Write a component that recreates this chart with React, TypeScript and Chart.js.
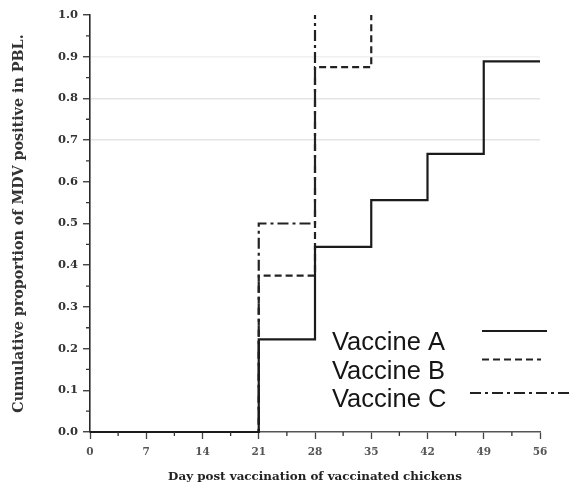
import React, { useEffect, useRef } from "react";
import { Chart, registerables } from "chart.js";

Chart.register(...registerables);

// Cumulative proportion of MDV-positive birds (PBL) by day post vaccination
const seriesNames = ["Vaccine A", "Vaccine B", "Vaccine C"];
const daysA = [0, 21, 28, 35, 42, 49, 56];
const propA = [0, 0.222, 0.444, 0.556, 0.667, 0.889, 0.889];
const daysB = [0, 21, 28, 35];
const propB = [0, 0.375, 0.875, 1.0];
const daysC = [0, 21, 28];
const propC = [0, 0.5, 1.0];

const xTickValues = [0, 7, 14, 21, 28, 35, 42, 49, 56];
const yTickValues = [0, 0.1, 0.2, 0.3, 0.4, 0.5, 0.6, 0.7, 0.8, 0.9, 1.0];
const xMinorTicks = [3.5, 10.5, 17.5, 24.5, 31.5, 38.5, 45.5, 52.5];
const yMinorTicks = [0.05, 0.15, 0.25, 0.35, 0.45, 0.55, 0.65, 0.75, 0.85, 0.95];

const xTitle = "Day post vaccination of vaccinated chickens";
const yTitle = "Cumulative proportion of MDV positive in PBL.";

const serif = '"DejaVu Serif", serif';

const toPoints = (xs: number[], ys: number[]) => xs.map((x, i) => ({ x, y: ys[i] }));

// Short minor tick marks between the labelled ones on both axes
const minorTicksPlugin = {
  id: "minorTicks",
  afterDraw(chart: any) {
    const { ctx, scales } = chart;
    const xs = scales.x;
    const ys = scales.y;
    ctx.save();
    ctx.strokeStyle = "#333";
    ctx.lineWidth = 1.3;
    ctx.beginPath();
    yMinorTicks.forEach((v) => {
      const py = ys.getPixelForValue(v);
      ctx.moveTo(ys.right - 4, py);
      ctx.lineTo(ys.right, py);
    });
    xMinorTicks.forEach((v) => {
      const px = xs.getPixelForValue(v);
      ctx.moveTo(px, xs.top);
      ctx.lineTo(px, xs.top + 4);
    });
    ctx.stroke();
    ctx.restore();
  },
};

// Legend with labels on the left and line samples on the right
const sideLegendPlugin = {
  id: "sideLegend",
  afterDraw(chart: any, _args: any, opts: any) {
    const { ctx } = chart;
    ctx.save();
    chart.data.datasets.forEach((ds: any, i: number) => {
      const baseY = opts.top + i * opts.rowGap;
      ctx.font = opts.font;
      ctx.fillStyle = "#151515";
      ctx.textBaseline = "alphabetic";
      ctx.textAlign = "left";
      ctx.fillText(ds.label, opts.textX, baseY);
      const [x0, x1] = opts.samples[i];
      ctx.strokeStyle = ds.borderColor;
      ctx.lineWidth = ds.borderWidth;
      ctx.setLineDash(ds.borderDash || []);
      ctx.beginPath();
      ctx.moveTo(x0, baseY + opts.sampleOffsets[i]);
      ctx.lineTo(x1, baseY + opts.sampleOffsets[i]);
      ctx.stroke();
    });
    ctx.restore();
  },
};

export default function App() {
  const canvasRef = useRef<HTMLCanvasElement | null>(null);

  useEffect(() => {
    const canvas = canvasRef.current;
    if (!canvas) return;

    const near = (a: number, b: number) => Math.abs(a - b) < 1e-6;

    const chart = new Chart(canvas, {
      type: "line",
      data: {
        datasets: [
          {
            label: seriesNames[0],
            data: toPoints(daysA, propA),
            borderColor: "#1b1b1b",
            borderWidth: 2.2,
            stepped: "before",
            pointRadius: 0,
            fill: false,
          },
          {
            label: seriesNames[1],
            data: toPoints(daysB, propB),
            borderColor: "#222",
            borderWidth: 2.2,
            borderDash: [7, 4],
            stepped: "before",
            pointRadius: 0,
            fill: false,
          },
          {
            label: seriesNames[2],
            data: toPoints(daysC, propC),
            borderColor: "#222",
            borderWidth: 2.2,
            borderDash: [11, 4, 3, 4],
            stepped: "before",
            pointRadius: 0,
            fill: false,
          },
        ],
      },
      options: {
        responsive: false,
        animation: false,
        clip: false,
        layout: { padding: { left: 0, right: 31, top: 15, bottom: 0 } },
        plugins: {
          legend: { display: false },
          tooltip: { enabled: false },
          sideLegend: {
            textX: 332,
            top: 350,
            rowGap: 28.5,
            font: '25.5px "Liberation Sans", Arial, sans-serif',
            samples: [
              [482, 547],
              [482, 541],
              [470, 571],
            ],
            sampleOffsets: [-19, -19, -14],
          },
        } as any,
        scales: {
          x: {
            type: "linear",
            min: 0,
            max: 56,
            afterFit: (s: any) => {
              s.height = 53;
            },
            afterBuildTicks: (s: any) => {
              s.ticks = xTickValues.map((v) => ({ value: v }));
            },
            ticks: {
              padding: 7,
              color: "#555",
              font: { family: serif, size: 10.5, weight: "bold" },
              maxRotation: 0,
              autoSkip: false,
            },
            grid: {
              display: true,
              drawOnChartArea: false,
              drawTicks: true,
              tickLength: 7,
              tickColor: "#444",
              tickWidth: 1.3,
            },
            border: { display: true, color: "#555", width: 1.5 },
            title: {
              display: true,
              text: xTitle,
              color: "#222",
              font: { family: serif, size: 11.9, weight: "bold" },
              padding: { top: 0, bottom: 1 },
            },
          },
          y: {
            type: "linear",
            min: 0,
            max: 1,
            afterFit: (s: any) => {
              s.width = 90;
            },
            afterBuildTicks: (s: any) => {
              s.ticks = yTickValues.map((v) => ({ value: v }));
            },
            ticks: {
              padding: 5,
              color: "#333",
              font: { family: serif, size: 11.5, weight: "bold" },
              callback: (v: any) => Number(v).toFixed(1),
            },
            grid: {
              display: true,
              drawOnChartArea: true,
              drawTicks: true,
              tickLength: 7,
              tickColor: "#333",
              tickWidth: 1.3,
              lineWidth: 1.5,
              color: (ctx: any) => {
                const v = ctx.tick ? ctx.tick.value : -1;
                if (near(v, 0.7) || near(v, 0.8)) return "#e4e4e4";
                if (near(v, 0.9)) return "#f0f0f0";
                return "rgba(0,0,0,0)";
              },
            },
            border: { display: true, color: "#2a2a2a", width: 1.6 },
            title: {
              display: true,
              text: yTitle,
              color: "#333",
              font: { family: serif, size: 14.3, weight: "bold" },
              padding: { top: 11, bottom: 0 },
            },
          },
        },
      },
      plugins: [minorTicksPlugin, sideLegendPlugin],
    });

    return () => chart.destroy();
  }, []);

  return (
    <div style={{ position: "absolute", left: 0, top: 0, width: 571, height: 485, background: "#fff" }}>
      <canvas ref={canvasRef} width={571} height={485} style={{ display: "block" }} />
    </div>
  );
}
